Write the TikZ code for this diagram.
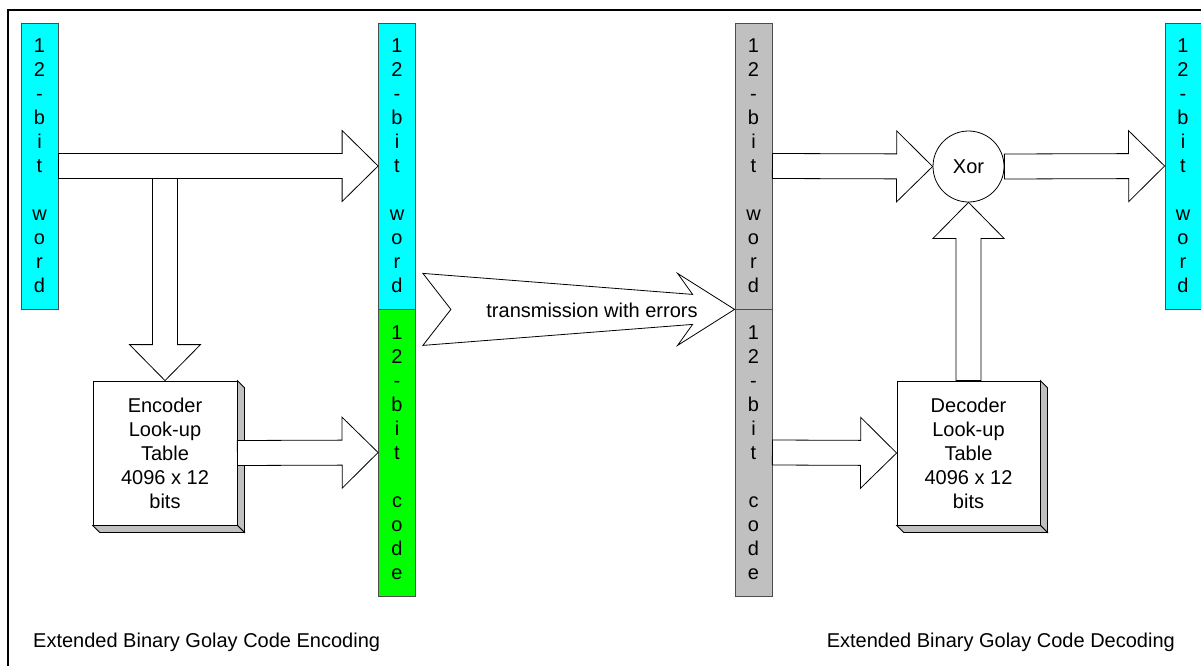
\documentclass[tikz,border=0pt]{standalone}
\usepackage{fontspec}
\setmainfont{Liberation Sans}
\usetikzlibrary{calc}
\definecolor{silver}{HTML}{C0C0C0}
\definecolor{aqua}{HTML}{00FFFF}
\definecolor{lime}{HTML}{00FF00}
\tikzset{
  bar/.style={draw=black!70, line width=0.8pt, minimum width=37pt, inner sep=0pt, align=center},
  blk/.style={draw=black, fill=white, line width=0.8pt, line join=miter},
  lut/.style={draw=black, fill=white, line width=0.8pt, minimum width=144pt, minimum height=144pt, inner sep=0pt, align=center},
  side/.style={draw=black, fill=silver, line width=0.8pt, line join=miter},
}
\newcommand\blockarrow[2]{%
  \draw[blk] let \p1=(#1), \p2=(#2), \n1={atan2(\y2-\y1,\x2-\x1)}, \n2={veclen(\x2-\x1,\y2-\y1)} in
  [shift={(\p1)}, rotate=\n1] (0,12.5) -- ({\n2-36},12.5) -- ({\n2-36},35.5) -- (\n2,0)
  -- ({\n2-36},-35.5) -- ({\n2-36},-12.5) -- (0,-12.5) -- cycle;}
\begin{document}
\begin{tikzpicture}[x=1pt,y=-1pt,font=\fontsize{20}{24}\selectfont]
\useasboundingbox (0,0) rectangle (1201,666);
\draw[line width=2pt] (8,666) -- (8,10) -- (1201,10);

% bars
\node[bar, fill=aqua, minimum height=286pt] (inw) at (39.5,166) {1\\2\\-\\b\\i\\t\\~\\w\\o\\r\\d};
\node[bar, fill=aqua, minimum height=286pt] (encw) at (397,166) {1\\2\\-\\b\\i\\t\\~\\w\\o\\r\\d};
\node[bar, fill=lime, minimum height=287pt] (encc) at (397,452.5) {1\\2\\-\\b\\i\\t\\~\\c\\o\\d\\e};
\node[bar, fill=silver, minimum height=286pt] (recw) at (753.5,166) {1\\2\\-\\b\\i\\t\\~\\w\\o\\r\\d};
\node[bar, fill=silver, minimum height=287pt] (recc) at (753.5,452.5) {1\\2\\-\\b\\i\\t\\~\\c\\o\\d\\e};
\node[bar, fill=aqua, minimum height=286pt, minimum width=36pt] (outw) at (1183,166) {1\\2\\-\\b\\i\\t\\~\\w\\o\\r\\d};

% look-up tables
\node[lut] (enc) at (165,453) {Encoder\\Look-up\\Table\\4096 x 12\\bits};
\draw[side] (enc.north east) -- ++(7,7) -- ($(enc.south east)+(7,7)$) -- (enc.south east) -- cycle;
\draw[side] (enc.south west) -- ++(7,7) -- ($(enc.south east)+(7,7)$) -- (enc.south east) -- cycle;
\node[lut, minimum width=143pt] (dec) at (968.5,453) {Decoder\\Look-up\\Table\\4096 x 12\\bits};
\draw[side] (dec.north east) -- ++(7,7) -- ($(dec.south east)+(7,7)$) -- (dec.south east) -- cycle;
\draw[side] (dec.south west) -- ++(7,7) -- ($(dec.south east)+(7,7)$) -- (dec.south east) -- cycle;

% xor
\node[circle, draw, fill=white, line width=0.8pt, minimum size=71pt, inner sep=0pt] (xor) at (968.5,166.5) {Xor};

% block arrows
\coordinate (split) at (enc.north |- 0,178.5);
\blockarrow{inw.east}{encw.west}
\blockarrow{split}{enc.north}
\blockarrow{enc.east}{encc.west}
\blockarrow{recw.east}{xor.west}
\blockarrow{xor.east}{outw.west}
\blockarrow{recc.east}{dec.west}
\blockarrow{dec.north}{xor.south}

% transmission arrow
\draw[blk] ($(encw.south east)+(7,-36)$) -- ($(recw.south west)+(-42,-15)$)
  -- ($(recw.south west)+(-57,-36)$) -- (recw.south west)
  -- ($(recw.south west)+(-57,36)$) -- ($(recw.south west)+(-42,15)$)
  -- ($(encw.south east)+(7,36)$) -- ($(encw.south east)+(35,0)$) -- cycle;
\node (tx) at (592,310) {transmission with errors};

% captions
\node[anchor=base west, inner sep=0pt] (capenc) at (33,647) {Extended Binary Golay Code Encoding};
\node[anchor=base east, inner sep=0pt] (capdec) at (1175,647) {Extended Binary Golay Code Decoding};
\end{tikzpicture}
\end{document}
